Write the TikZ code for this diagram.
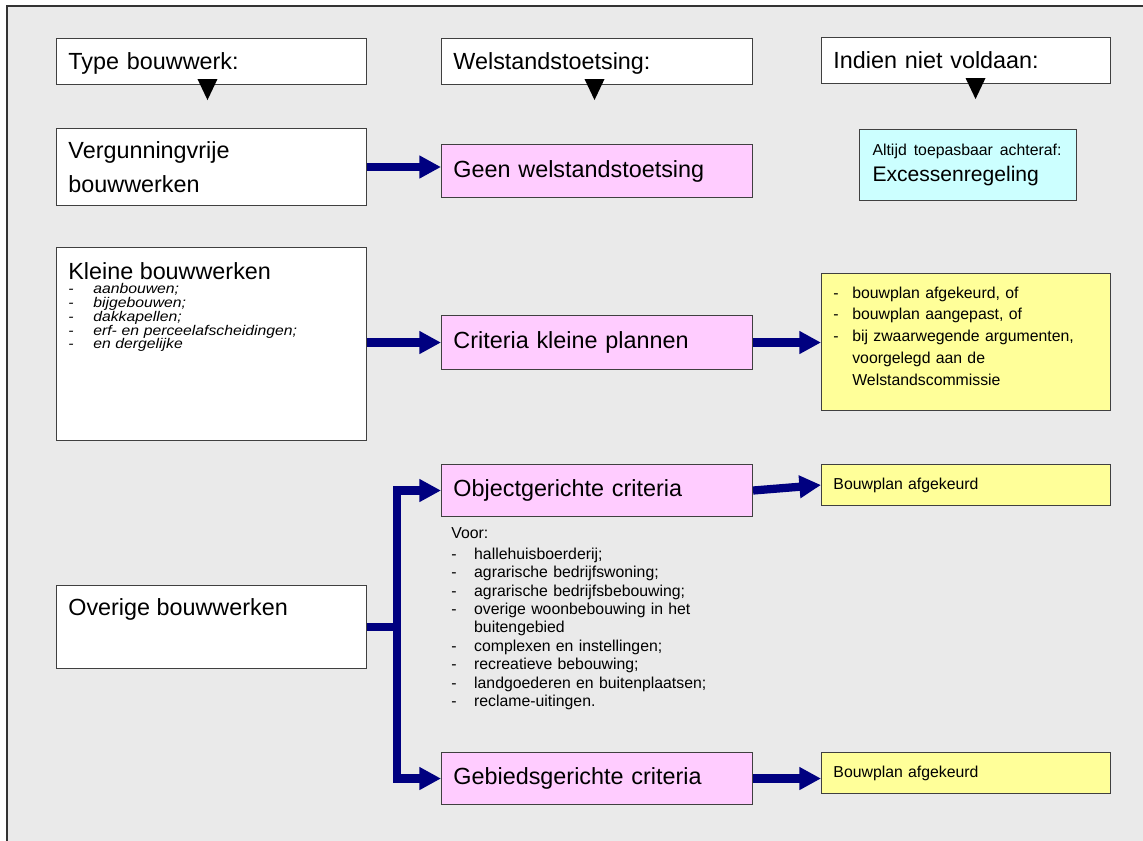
\documentclass[tikz,border=0pt]{standalone}
\usepackage{fontspec}
\setmainfont{Liberation Sans}
\newfontfamily\widefont[FakeStretch=1.12]{Liberation Sans}
\definecolor{wbgray}{HTML}{EAEAEA}
\definecolor{wbpink}{HTML}{FFCCFF}
\definecolor{wbcyan}{HTML}{CCFFFF}
\definecolor{wbyellow}{HTML}{FFFF99}
\definecolor{wbnavy}{HTML}{000080}
\usetikzlibrary{%
    arrows.meta,
}
\newcommand\bigfont{\fontsize{13.3}{19}\selectfont}
\newcommand\smallfont{\fontsize{9}{10.5}\selectfont}
\newcommand\dashitem[2][13pt]{\makebox[#1][l]{-}#2}
\tikzset{%
    base/.style = {
        anchor=north west,
        align=left,
        inner xsep=6.8pt,
        inner ysep=2pt,
        draw=black!75,
        line width=0.6pt,
    },
    head/.style = {
        base,
        fill=white,
        minimum height=0.92cm,
        text depth=0pt,
        font=\bigfont,
    },
    kind/.style = {
        base,
        fill=white,
        font=\bigfont,
    },
    toets/.style = {
        base,
        fill=wbpink,
        text width=163.4pt,
        font=\bigfont,
    },
    gevolg/.style = {
        base,
        fill=wbyellow,
        text width=150.9pt,
        font=\smallfont,
    },
    achteraf/.style = {
        base,
        fill=wbcyan,
        inner xsep=7.4pt,
        text width=108.7pt,
        font=\fontsize{12}{14.8}\selectfont,
    },
    label/.style = {
        anchor=base west,
        align=left,
        inner sep=0pt,
    },
    flow/.style = {
        draw=wbnavy,
        line width=4.7pt,
        -{Triangle[length=12.3pt,width=12.3pt]},
    },
    frame/.style = {
        fill=wbgray,
        draw=black!80,
        line width=0.6pt,
    },
}

\begin{document}
\begin{tikzpicture}[x=0.02cm, y=-0.02cm]
    \useasboundingbox (0,0) rectangle (1143,841);
    \clip (0,0) rectangle (1143,841);
    \fill[white] (0,0) rectangle (1143,841);
    \draw[frame] (7,6) rectangle (1160,860);

    % kolomkoppen
    \node [head, text width=162.8pt] (typ) at (56,38) {Type bouwwerk:};
    \node [head, text width=163.4pt] (welst) at (441,38) {Welstandstoetsing:};
    \node [head, text width=150.9pt] (indien) at (821,37) {Indien niet voldaan:};
    \fill ([shift={(-14,-6)}]typ.south) -- ++(20,0) -- ++(-10,21) -- cycle;
    \fill ([shift={(-12.5,-6)}]welst.south) -- ++(20,0) -- ++(-10,21) -- cycle;
    \fill ([shift={(-0.5,-6)}]indien.south) -- ++(20,0) -- ++(-10,21) -- cycle;

    % vergunningvrij
    \node [kind, text width=162.8pt, minimum height=1.54cm] (verg) at (56,128) {Vergunningvrije\\bouwwerken};
    \node [toets, minimum height=1.06cm] (geen) at (441,144) {Geen welstandstoetsing};
    \node [achteraf, minimum height=1.42cm] (exces) at (859,129)
        {{\fontsize{9}{14.8}\selectfont Altijd toepasbaar achteraf:}\\Excessenregeling};

    % kleine bouwwerken
    \node [kind, text width=162.8pt, minimum height=3.86cm] (kleine) at (56,247) {};
    \node [label, font=\bigfont] (kleinetitel) at ([shift={(12,32)}]kleine.north west) {Kleine bouwwerken};
    \node [label, text width=150pt, font={\widefont\fontsize{8}{7.8}\selectfont\itshape\lineskiplimit=-10pt}] (kleinelijst)
        at ([shift={(12,47)}]kleine.north west)
        {\dashitem[14.2pt]{aanbouwen;}\\
         \dashitem[14.2pt]{bijgebouwen;}\\
         \dashitem[14.2pt]{dakkapellen;}\\
         \dashitem[14.2pt]{erf- en perceelafscheidingen;}\\
         \dashitem[14.2pt]{en dergelijke}};
    \node [toets, minimum height=1.08cm] (crit) at (441,315) {Criteria kleine plannen};
    \node [gevolg, minimum height=2.74cm] (geel) at (821,273) {};
    \node [label, text width=150pt, font={\fontsize{9}{12.4}\selectfont}] (geellijst)
        at ([shift={(12,25)}]geel.north west)
        {\dashitem[10.8pt]{bouwplan afgekeurd, of}\\
         \dashitem[10.8pt]{bouwplan aangepast, of}\\
         \dashitem[10.8pt]{bij zwaarwegende argumenten,}\\
         \hspace*{10.8pt}voorgelegd aan de\\
         \hspace*{10.8pt}Welstandscommissie};

    % overige bouwwerken
    \node [kind, text width=162.8pt, minimum height=1.66cm] (overige) at (56,585) {};
    \node [label, font=\bigfont] (overigetitel) at ([shift={(12,30)}]overige.north west) {Overige bouwwerken};
    \node [toets, minimum height=1.04cm] (obj) at (441,464) {Objectgerichte criteria};
    \node [gevolg, minimum height=0.82cm] (afk1) at (821,464) {Bouwplan afgekeurd};
    \node [label, text width=170pt, font={\fontsize{9}{10.5}\selectfont}] (voor)
        at ([shift={(10,21)}]obj.south west)
        {Voor:\\[1.5pt]
         \dashitem{hallehuisboerderij;}\\
         \dashitem{agrarische bedrijfswoning;}\\
         \dashitem{agrarische bedrijfsbebouwing;}\\
         \dashitem{overige woonbebouwing in het}\\
         \hspace*{13pt}buitengebied\\
         \dashitem{complexen en instellingen;}\\
         \dashitem{recreatieve bebouwing;}\\
         \dashitem{landgoederen en buitenplaatsen;}\\
         \dashitem{reclame-uitingen.}};
    \node [toets, minimum height=1.04cm] (geb) at (441,752) {Gebiedsgerichte criteria};
    \node [gevolg, minimum height=0.82cm] (afk2) at (821,752) {Bouwplan afgekeurd};

    % pijlen
    \draw [flow] (verg.east) -- (verg.east -| geen.west);
    \draw [flow] (kleine.east |- crit.west) -- (crit.west);
    \draw [flow] (crit.east) -- (crit.east -| geel.west);
    \draw [flow] (obj.east) -- (afk1.west);
    \draw [flow] (geb.east) -- (geb.east -| afk2.west);
    \coordinate [xshift=0.6cm] (split) at (overige.east);
    \draw [flow] (overige.east) -- (split) |- (obj.west);
    \draw [flow] (split) |- (geb.west);
\end{tikzpicture}
\end{document}
